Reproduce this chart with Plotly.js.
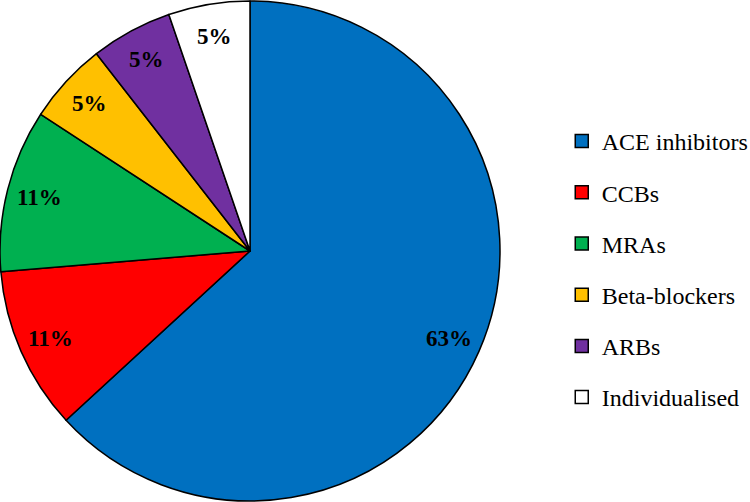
<!DOCTYPE html>
<html>
<head>
<meta charset="utf-8">
<script src="https://cdn.plot.ly/plotly-3.0.1.min.js"></script>
<style>html,body{margin:0;padding:0;background:#fff;}#chart{width:750px;height:502px;}</style>
</head>
<body>
<div id="chart"></div>
<script>
const categories = ["ACE inhibitors", "CCBs", "MRAs", "Beta-blockers", "ARBs", "Individualised"];
const counts = [12, 2, 2, 1, 1, 1];
const colors = ["#0070C0", "#FF0000", "#00B050", "#FFC000", "#7030A0", "#FFFFFF"];

const FONT = "Liberation Serif";
const W = 750, H = 502;
const pieDomainX = [0, 500 / 750];
const total = counts.reduce((a, b) => a + b, 0);

const pie = {
  type: "pie",
  labels: categories,
  values: counts,
  sort: false,
  direction: "clockwise",
  rotation: 0,
  marker: { colors: colors, line: { color: "#000", width: 1.5 } },
  textinfo: "none",
  hoverinfo: "label+percent",
  showlegend: false,
  domain: { x: pieDomainX, y: [0, 1] }
};

const legendTraces = categories.map((c, i) => ({
  type: "scatter",
  mode: "markers",
  x: [null], y: [null],
  name: c,
  legendgroup: "g" + i,
  marker: { symbol: "square", size: 13, color: colors[i], line: { color: "#000", width: 1.5 } },
  hoverinfo: "skip"
}));

// percentage labels placed along each slice's mid-angle
const cx = (pieDomainX[0] + pieDomainX[1]) / 2 * W;
const cy = H / 2;
const R = Math.min((pieDomainX[1] - pieDomainX[0]) * W, H) / 2;
let cum = 0;
const annotations = counts.map((v) => {
  const mid = (cum + v / 2) / total * 2 * Math.PI;
  cum += v;
  const r = 0.87 * R;
  const px = cx + r * Math.sin(mid);
  const py = cy - r * Math.cos(mid);
  return {
    x: px / W, y: 1 - py / H, xref: "paper", yref: "paper",
    text: "<b>" + Math.round(v / total * 100) + "%</b>",
    showarrow: false,
    font: { family: FONT, size: 23, color: "#000" },
    xanchor: "center", yanchor: "middle"
  };
});

const layout = {
  width: W, height: H,
  margin: { l: 0, r: 0, t: 0, b: 0, pad: 0, autoexpand: false },
  paper_bgcolor: "#fff",
  plot_bgcolor: "rgba(0,0,0,0)",
  font: { family: FONT, size: 24, color: "#000" },
  xaxis: { visible: false, domain: [0.99, 1] },
  yaxis: { visible: false, domain: [0.99, 1] },
  showlegend: true,
  legend: {
    x: 0.749, y: 1 - 119 / H, xanchor: "left", yanchor: "top",
    font: { family: FONT, size: 24, color: "#000" },
    tracegroupgap: 17,
    bgcolor: "rgba(0,0,0,0)",
    itemclick: false, itemdoubleclick: false
  },
  annotations: annotations
};

Plotly.newPlot("chart", [pie].concat(legendTraces), layout, { displayModeBar: false, staticPlot: true });
</script>
</body>
</html>
